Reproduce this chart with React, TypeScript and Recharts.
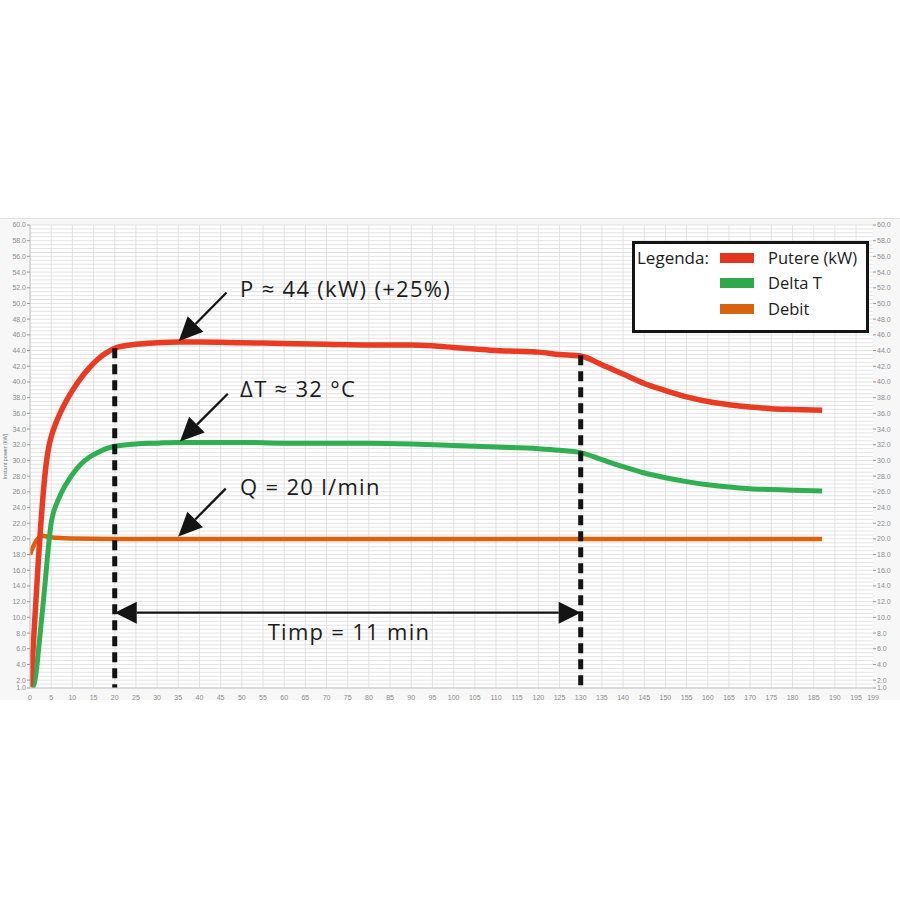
import React from 'react';
import {
  LineChart,
  Line,
  XAxis,
  YAxis,
  CartesianGrid,
  ReferenceLine,
  ReferenceDot,
  Legend,
  Label,
} from 'recharts';

// ---- data (time in x-axis units, value in kW / °C / l/min) ----
const putere: [number, number][] = [
  [0, 1.2], [0.5, 4], [1, 8.5], [1.5, 13], [2, 17.5], [2.5, 21.5], [3, 25], [3.5, 28],
  [4, 30.3], [4.5, 31.9], [5, 33], [6, 34.6], [7, 35.9], [8, 37], [9, 38], [10, 38.9],
  [12, 40.5], [14, 41.8], [16, 42.9], [18, 43.7], [20, 44.3], [25, 44.8], [30, 45.0],
  [35, 45.1], [40, 45.1], [50, 45.0], [60, 44.9], [70, 44.8], [80, 44.7], [90, 44.7],
  [95, 44.6], [100, 44.4], [105, 44.2], [110, 44.0], [115, 43.9], [120, 43.8], [125, 43.5],
  [130, 43.3], [135, 42.2], [140, 41.0], [145, 39.8], [150, 38.9], [155, 38.1], [160, 37.5],
  [165, 37.1], [170, 36.8], [175, 36.6], [180, 36.5], [187, 36.4],
];
const deltaT: [number, number][] = [
  [0.5, 1.0], [1, 1.6], [1.5, 3.2], [2, 5.8], [2.5, 8.5], [3, 11.2], [3.5, 14], [4, 17],
  [4.5, 19.8], [5, 22.0], [5.5, 23.3], [6, 24.1], [7, 25.4], [8, 26.5], [9, 27.4], [10, 28.2],
  [12, 29.5], [14, 30.4], [16, 31.0], [18, 31.5], [20, 31.8], [25, 32.1], [30, 32.2],
  [35, 32.3], [40, 32.3], [50, 32.3], [60, 32.2], [70, 32.2], [80, 32.2], [90, 32.1],
  [100, 31.9], [110, 31.7], [120, 31.5], [125, 31.3], [130, 31.0], [135, 30.1], [140, 29.2],
  [145, 28.4], [150, 27.8], [155, 27.3], [160, 26.9], [165, 26.6], [170, 26.4], [175, 26.3],
  [180, 26.2], [187, 26.1],
];
const debit: [number, number][] = [
  [0, 18.0], [0.5, 18.7], [1, 19.3], [1.5, 19.8], [2, 20.1], [3, 20.4], [4, 20.3], [5, 20.2],
  [7, 20.1], [10, 20.05], [20, 20.0], [50, 20.0], [100, 20.0], [150, 20.0], [187, 20.0],
];

const xTicks = [
  0, 5, 10, 15, 20, 25, 30, 35, 40, 45, 50, 55, 60, 65, 70, 75, 80, 85, 90, 95, 100, 105, 110,
  115, 120, 125, 130, 135, 140, 145, 150, 155, 160, 165, 170, 175, 180, 185, 190, 195, 199,
];
const yTicks = [
  1, 2, 4, 6, 8, 10, 12, 14, 16, 18, 20, 22, 24, 26, 28, 30, 32, 34, 36, 38, 40, 42, 44, 46, 48,
  50, 52, 54, 56, 58, 60,
];
const gridY: number[] = [];
for (let v = 1; v <= 60; v += 0.5) gridY.push(v);
const gridX: number[] = [];
for (let v = 0; v <= 195; v += 5) gridX.push(v);

const legendItems = [
  { label: 'Putere (kW)', color: '#e4331f' },
  { label: 'Delta T', color: '#2ea84a' },
  { label: 'Debit', color: '#d7620f' },
];

// annotation positions in data units
const markers = [20, 130];
const markerTops = [44.3, 43.4];
const arrows = [
  { from: { x: 46.4, y: 51.4 }, to: { x: 35.1, y: 45.2 } },
  { from: { x: 46.7, y: 38.5 }, to: { x: 35.4, y: 32.4 } },
  { from: { x: 46.2, y: 26.4 }, to: { x: 35.0, y: 20.3 } },
];
const notes = [
  { x: 49.6, y: 51.8, text: 'P ≈ 44 (kW) (+25%)', anchor: 'start' },
  { x: 49.6, y: 39.1, text: 'ΔT ≈ 32 °C', anchor: 'start' },
  { x: 49.6, y: 26.6, text: 'Q = 20 l/min', anchor: 'start' },
  { x: 75.3, y: 8.1, text: 'Timp = 11 min', anchor: 'middle' },
];
const spanY = 10.6;

const toPts = (arr: [number, number][]) => arr.map(([t, v]) => ({ t, v }));

const INK = '#141414';
const FONT = '"Open Sans", "DejaVu Sans", sans-serif';

const arrowHead = (x1: number, y1: number, x2: number, y2: number, L = 22, W = 10) => {
  const dx = x2 - x1;
  const dy = y2 - y1;
  const len = Math.hypot(dx, dy) || 1;
  const ux = dx / len;
  const uy = dy / len;
  const bx = x2 - ux * L;
  const by = y2 - uy * L;
  return {
    bx,
    by,
    points: `${x2},${y2} ${bx - uy * W},${by + ux * W} ${bx + uy * W},${by - ux * W}`,
  };
};

const SingleArrow = (props: any) => {
  const { x1, y1, x2, y2 } = props;
  const h = arrowHead(x1, y1, x2, y2, 24, 11);
  return (
    <g>
      <line x1={x1} y1={y1} x2={h.bx} y2={h.by} stroke={INK} strokeWidth={2.3} />
      <polygon points={h.points} fill={INK} />
    </g>
  );
};

const DoubleArrow = (props: any) => {
  const { x1, y1, x2, y2 } = props;
  const a = arrowHead(x2, y2, x1, y1, 22, 11);
  const b = arrowHead(x1, y1, x2, y2, 22, 11);
  return (
    <g>
      <line x1={a.bx} y1={a.by} x2={b.bx} y2={b.by} stroke={INK} strokeWidth={2.3} />
      <polygon points={a.points} fill={INK} />
      <polygon points={b.points} fill={INK} />
    </g>
  );
};

const LegendBox = () => (
  <div
    style={{
      width: 231,
      height: 86,
      border: `3px solid ${INK}`,
      background: '#fff',
      position: 'relative',
      fontFamily: FONT,
      color: '#1c1c1c',
    }}
  >
    <div style={{ position: 'absolute', left: 2, top: 4, fontSize: 17, lineHeight: '20px' }}>
      Legenda:
    </div>
    {legendItems.map((it, i) => (
      <React.Fragment key={it.label}>
        <div
          style={{
            position: 'absolute',
            left: 85,
            top: [9, 34, 60][i],
            width: 34,
            height: 10,
            background: it.color,
          }}
        />
        <div
          style={{
            position: 'absolute',
            left: 133,
            top: [4, 29, 55][i],
            fontSize: 16.5,
            lineHeight: '20px',
            whiteSpace: 'nowrap',
          }}
        >
          {it.label}
        </div>
      </React.Fragment>
    ))}
  </div>
);

const tickStyle = { fontSize: 7, fill: '#8c8c8c', fontFamily: '"Liberation Sans", Arial, sans-serif' };

export default function App() {
  return (
    <div style={{ position: 'absolute', left: 0, top: 0, width: 900, height: 900, background: '#fff' }}>
      <div
        style={{
          position: 'absolute',
          left: 0,
          top: 218,
          width: 900,
          height: 482,
          background: '#f7f7f7',
          borderTop: '1px solid #e4e4d6',
          boxSizing: 'border-box',
        }}
      >
        <LineChart
          width={900}
          height={481}
          margin={{ top: 6, right: 0, bottom: 0, left: 0 }}
        >
          <CartesianGrid
            yAxisId="left"
            fill="#ffffff"
            stroke="#dcdcdc"
            strokeWidth={0.8}
            horizontalValues={gridY}
            verticalValues={gridX}
          />
          <XAxis
            dataKey="t"
            type="number"
            domain={[0, 199]}
            ticks={xTicks}
            interval={0}
            allowDataOverflow
            tick={tickStyle}
            tickLine={false}
            axisLine={{ stroke: '#c8c8c8' }}
            tickMargin={1}
            height={12}
          />
          <YAxis
            yAxisId="left"
            type="number"
            domain={[1, 60]}
            ticks={yTicks}
            interval={0}
            allowDataOverflow
            width={30}
            tick={tickStyle}
            tickFormatter={(v: number) => v.toFixed(1)}
            tickLine={{ stroke: '#9a9a9a' }}
            tickSize={3}
            tickMargin={1}
            axisLine={{ stroke: '#c8c8c8' }}
          >
            <Label
              content={(p: any) => {
                const vb = p.viewBox || { x: 0, y: 0, width: 30, height: 460 };
                const cx = vb.x + 7;
                const cy = vb.y + vb.height / 2;
                return (
                  <text
                    x={cx}
                    y={cy}
                    transform={`rotate(-90 ${cx} ${cy})`}
                    textAnchor="middle"
                    fontSize={5.5}
                    fill="#7a7a7a"
                    fontFamily='"Liberation Sans", Arial, sans-serif'
                  >
                    Instant power [kW]
                  </text>
                );
              }}
            />
          </YAxis>
          <YAxis
            yAxisId="right"
            orientation="right"
            type="number"
            domain={[1, 60]}
            ticks={yTicks}
            interval={0}
            allowDataOverflow
            width={27}
            tick={tickStyle}
            tickFormatter={(v: number) => v.toFixed(1)}
            tickLine={{ stroke: '#9a9a9a' }}
            tickSize={3}
            tickMargin={1}
            axisLine={false}
          />
          <Legend
            layout="vertical"
            align="center"
            verticalAlign="middle"
            content={() => <LegendBox />}
            wrapperStyle={{ left: 632, top: 22, width: 237, height: 92 }}
          />
          <Line
            yAxisId="left"
            data={toPts(debit)}
            dataKey="v"
            type="monotone"
            stroke="#dd620f"
            strokeWidth={4.5}
            dot={false}
            isAnimationActive={false}
          />
          <Line
            yAxisId="left"
            data={toPts(deltaT)}
            dataKey="v"
            type="monotone"
            stroke="#2fae52"
            strokeWidth={5}
            dot={false}
            isAnimationActive={false}
          />
          <Line
            yAxisId="left"
            data={toPts(putere)}
            dataKey="v"
            type="monotone"
            stroke="#ea3a22"
            strokeWidth={5.5}
            dot={false}
            isAnimationActive={false}
          />
          {markers.map((m, i) => (
            <ReferenceLine
              key={`m${m}`}
              yAxisId="left"
              segment={[
                { x: m, y: markerTops[i] },
                { x: m, y: 1 },
              ]}
              stroke={INK}
              strokeWidth={5}
              strokeDasharray="10 6"
              ifOverflow="visible"
            />
          ))}
          {arrows.map((a, i) => (
            <ReferenceLine
              key={`a${i}`}
              yAxisId="left"
              segment={[a.from, a.to]}
              ifOverflow="visible"
              shape={SingleArrow}
            />
          ))}
          <ReferenceLine
            yAxisId="left"
            segment={[
              { x: markers[0], y: spanY },
              { x: markers[1], y: spanY },
            ]}
            ifOverflow="visible"
            shape={DoubleArrow}
          />
          {notes.map((n) => (
            <ReferenceDot
              key={n.text}
              yAxisId="left"
              x={n.x}
              y={n.y}
              r={0}
              ifOverflow="visible"
              shape={(p: any) => (
                <text
                  x={p.cx}
                  y={p.cy}
                  dy={7.5}
                  textAnchor={n.anchor as any}
                  fontSize={22}
                  letterSpacing={1.3}
                  fill="#1c1c1c"
                  fontFamily={FONT}
                >
                  {n.text}
                </text>
              )}
            />
          ))}
        </LineChart>
      </div>
    </div>
  );
}
